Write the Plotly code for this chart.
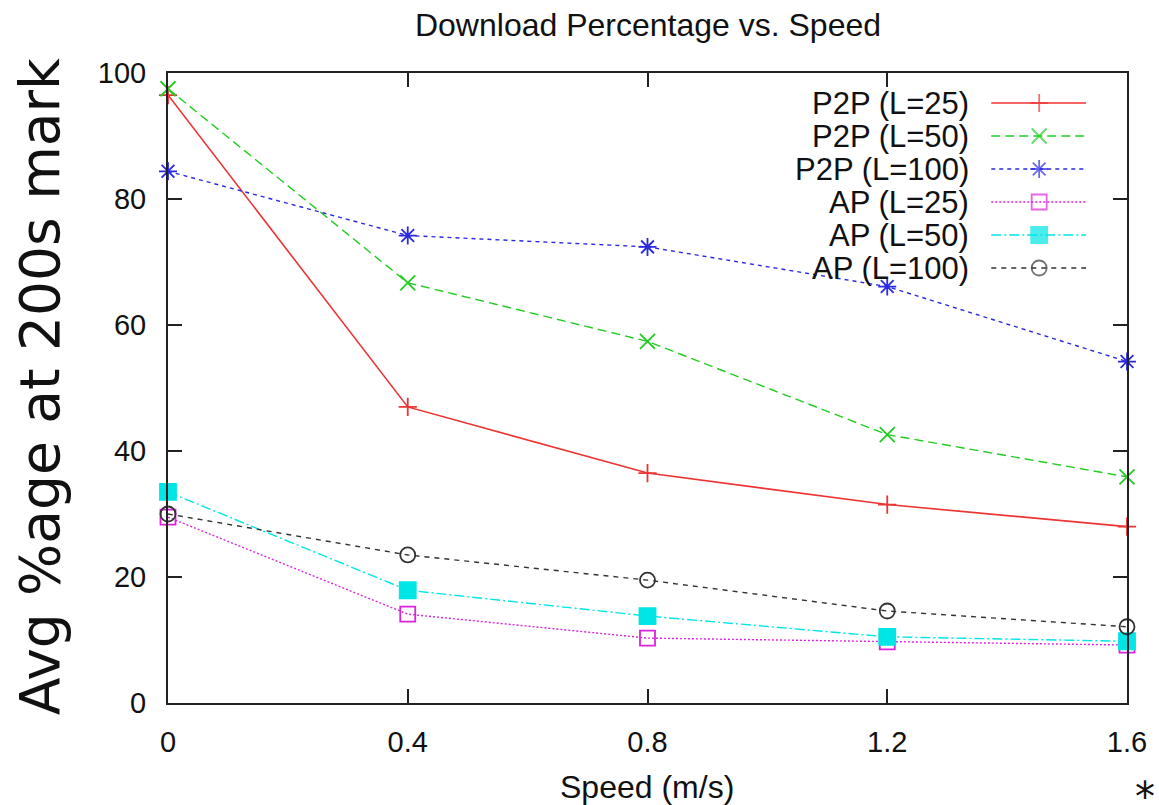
import plotly.graph_objects as go

# Measured download percentages at the 200 s mark, per node speed
speed = [0, 0.4, 0.8, 1.2, 1.6]
p2p_l25 = [96.5, 47.0, 36.5, 31.5, 28.0]
p2p_l50 = [97.5, 66.7, 57.4, 42.6, 35.9]
p2p_l100 = [84.4, 74.2, 72.4, 66.1, 54.2]
ap_l25 = [29.5, 14.1, 10.3, 9.7, 9.2]
ap_l50 = [33.5, 17.9, 13.8, 10.5, 9.8]
ap_l100 = [30.0, 23.5, 19.5, 14.6, 12.1]

series_names = ["P2P (L=25)", "P2P (L=50)", "P2P (L=100)",
                "AP (L=25)", "AP (L=50)", "AP (L=100)"]
x_tick_vals = [0, 0.4, 0.8, 1.2, 1.6]
x_tick_text = ["0", "0.4", "0.8", "1.2", "1.6"]
y_tick_vals = [0, 20, 40, 60, 80, 100]

W, H = 1159, 805
L, R, T, B = 168, 30, 73, 102
PLOT_W = W - L - R
PLOT_H = H - T - B

styles = [
    dict(color="#ee3333", dash="solid", symbol="cross-thin-open", size=13, lw=1.6),
    dict(color="#22cc22", dash="9px,5px", symbol="x-thin-open", size=15, lw=1.4),
    dict(color="#2a2ae0", dash="4px,4px", symbol="asterisk-open", size=15, lw=1.4),
    dict(color="#dd22dd", dash="2px,2px", symbol="square-open", size=15, lw=1.4),
    dict(color="#00e5e5", dash="10px,3px,2px,3px", symbol="square", size=16, lw=1.4),
    dict(color="#333333", dash="5px,5px", symbol="circle-open", size=15, lw=1.4),
]
values = [p2p_l25, p2p_l50, p2p_l100, ap_l25, ap_l50, ap_l100]

fig = go.Figure()

for name, vals, st in zip(series_names, values, styles):
    fig.add_trace(go.Scatter(
        x=speed, y=vals, name=name, mode="lines+markers",
        line=dict(color=st["color"], dash=st["dash"], width=st["lw"]),
        marker=dict(symbol=st["symbol"], size=st["size"], color=st["color"],
                    line=dict(color=st["color"], width=1.8)),
        cliponaxis=False, showlegend=False,
    ))

# Key drawn on a hidden pixel-scaled axis: right-aligned text, sample on the right
text_right = 973
sample_x = [993, 1041, 1088]
row_y0, row_step = 103, 33
for i, (name, st) in enumerate(zip(series_names, styles)):
    ry = row_y0 + i * row_step
    fig.add_trace(go.Scatter(
        x=sample_x, y=[ry] * 3, mode="lines+markers", xaxis="x2", yaxis="y2",
        line=dict(color=st["color"], dash=st["dash"], width=st["lw"]),
        marker=dict(symbol=st["symbol"], size=[0, st["size"], 0], color=st["color"],
                    line=dict(color=st["color"], width=1.8)),
        cliponaxis=False, showlegend=False, hoverinfo="skip",
    ))
    fig.add_annotation(
        x=text_right, y=ry, xref="x2", yref="y2", text=name, showarrow=False,
        xanchor="right", yanchor="middle",
        font=dict(family="Liberation Sans, Arial", size=31, color="#111111"),
    )

axis_common = dict(
    showline=True, linecolor="#222222", linewidth=2, mirror="ticks",
    ticks="inside", ticklen=14, tickcolor="#222222", tickwidth=2,
    showgrid=False, zeroline=False,
    tickfont=dict(family="Liberation Sans, Arial", size=29, color="#111111"),
)

fig.update_layout(
    width=W, height=H,
    margin=dict(l=L, r=R, t=T, b=B),
    paper_bgcolor="white", plot_bgcolor="white",
    title=dict(text="Download Percentage vs. Speed", x=648 / W, xanchor="center",
               y=1 - 25 / H, yanchor="middle",
               font=dict(family="Liberation Sans, Arial", size=32, color="#111111")),
    xaxis=dict(range=[0, 1.6], tickvals=x_tick_vals, ticktext=x_tick_text,
               ticklabelstandoff=12, **axis_common),
    yaxis=dict(range=[0, 100], tickvals=y_tick_vals, ticklabelstandoff=14,
               **axis_common),
    xaxis2=dict(range=[L, W - R], overlaying="x", visible=False, fixedrange=True),
    yaxis2=dict(range=[H - B, T], overlaying="y", visible=False, fixedrange=True),
    showlegend=False,
)

fig.add_annotation(
    text="Avg %age at 200s mark", xref="paper", yref="paper",
    x=(40 - L) / PLOT_W, y=(H - B - 387) / PLOT_H, textangle=-90,
    showarrow=False, xanchor="center", yanchor="middle",
    font=dict(family="DejaVu Sans", size=55, color="#111111"),
)
fig.add_annotation(
    text="Speed (m/s)", xref="paper", yref="paper",
    x=(648 - L) / PLOT_W, y=(H - B - 787) / PLOT_H,
    showarrow=False, xanchor="center", yanchor="middle",
    font=dict(family="Liberation Sans, Arial", size=32, color="#111111"),
)
fig.add_annotation(
    text="*", xref="paper", yref="paper",
    x=(1147 - L) / PLOT_W, y=(H - B - 797) / PLOT_H,
    showarrow=False, xanchor="center", yanchor="middle",
    font=dict(family="DejaVu Sans", size=40, color="#111111"),
)

fig.write_html("out.html")
